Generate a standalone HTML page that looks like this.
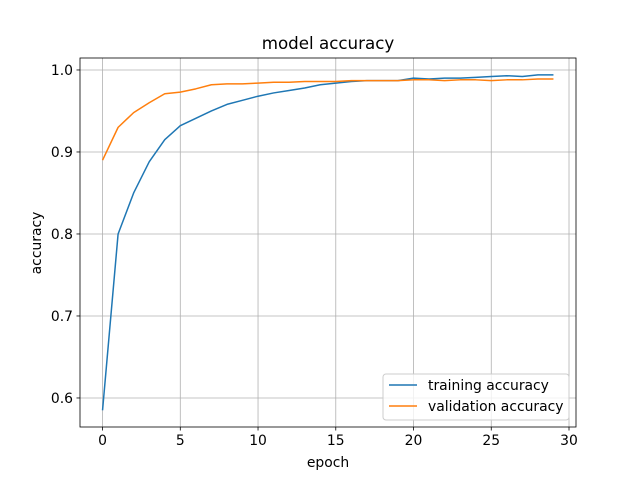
<!DOCTYPE html>
<html><head><meta charset="utf-8"><style>
body{margin:0;background:#fff}
svg text{font-family:"DejaVu Sans","Liberation Sans",sans-serif;fill:#000}
</style></head><body>
<svg id="chart" width="640" height="480" xmlns="http://www.w3.org/2000/svg">
<rect width="640" height="480" fill="#fff"/>
<g id="grid"></g>
<g id="series"></g>
<rect x="80" y="58" width="496" height="369" fill="none" stroke="#000" stroke-width="0.8"/>
<g id="ticks"></g>
<text x="328" y="49" text-anchor="middle" font-size="16.7">model accuracy</text>
<text x="328" y="467" text-anchor="middle" font-size="13.9">epoch</text>
<text transform="translate(41,243) rotate(-90)" text-anchor="middle" font-size="13.9">accuracy</text>
<g>
<rect x="383" y="374" width="186" height="46" rx="3" fill="#fff" fill-opacity="0.8" stroke="#ccc"/>
<line x1="389" y1="385" x2="417" y2="385" stroke="#1f77b4" stroke-width="1.5"/>
<text x="428" y="390" font-size="13.9">training accuracy</text>
<line x1="389" y1="406" x2="417" y2="406" stroke="#ff7f0e" stroke-width="1.5"/>
<text x="428" y="411" font-size="13.9">validation accuracy</text>
</g>
</svg>
<script>
const epochs=[...Array(30).keys()];
const trainAcc=[0.585,0.80,0.85,0.888,0.915,0.932,0.941,0.950,0.958,0.963,0.968,0.972,0.975,0.978,0.982,0.984,0.986,0.987,0.987,0.987,0.990,0.989,0.990,0.990,0.991,0.992,0.993,0.992,0.994,0.994];
const valAcc=[0.890,0.930,0.948,0.960,0.971,0.973,0.977,0.982,0.983,0.983,0.984,0.985,0.985,0.986,0.986,0.986,0.987,0.987,0.987,0.987,0.988,0.988,0.987,0.988,0.988,0.987,0.988,0.988,0.989,0.989];
const xTicks=[0,5,10,15,20,25,30];
const yTicks=[0.6,0.7,0.8,0.9,1.0];
const yTickLabels=["0.6","0.7","0.8","0.9","1.0"];
const ns="http://www.w3.org/2000/svg";
const X0=80,X1=576,Y0=58,Y1=427;
const xmin=-1.45,xmax=30.45,ymin=0.5646,ymax=1.0146;
const xs=v=>X0+(v-xmin)/(xmax-xmin)*(X1-X0);
const ys=v=>Y1-(v-ymin)/(ymax-ymin)*(Y1-Y0);
function mk(t,a,p){const e=document.createElementNS(ns,t);for(const k in a)e.setAttribute(k,a[k]);p.appendChild(e);return e;}
const grid=document.getElementById('grid'),ticks=document.getElementById('ticks'),series=document.getElementById('series');
xTicks.forEach(v=>{const x=xs(v);
 const g=mk('line',{x1:x,x2:x,y1:Y0,y2:Y1,stroke:'#b0b0b0','stroke-width':0.8},grid);
 
 
 const t=mk('line',{x1:x,x2:x,y1:Y1,y2:Y1+3.5,stroke:'#000','stroke-width':0.8},ticks);
 
 
 const l=mk('text',{x:x,y:Y1+18,'text-anchor':'middle','font-size':13.9},ticks);l.textContent=v;
 
 
});
yTicks.forEach((v,i)=>{const y=ys(v);
 const g=mk('line',{x1:X0,x2:X1,y1:y,y2:y,stroke:'#b0b0b0','stroke-width':0.8},grid);
 
 
 const t=mk('line',{x1:X0-3.5,x2:X0,y1:y,y2:y,stroke:'#000','stroke-width':0.8},ticks);
 
 
 const l=mk('text',{x:X0-7,y:y+5,'text-anchor':'end','font-size':13.9},ticks);l.textContent=yTickLabels[i];
 
 
});
function line(d,c,name){
 const p=mk('polyline',{points:d.map((v,i)=>xs(epochs[i])+','+ys(v)).join(' '),fill:'none',stroke:c,'stroke-width':1.5,'stroke-linejoin':'round'},series);
 
 
}
line(trainAcc,'#1f77b4','training-accuracy-line');
line(valAcc,'#ff7f0e','validation-accuracy-line');
</script>
</body></html>
